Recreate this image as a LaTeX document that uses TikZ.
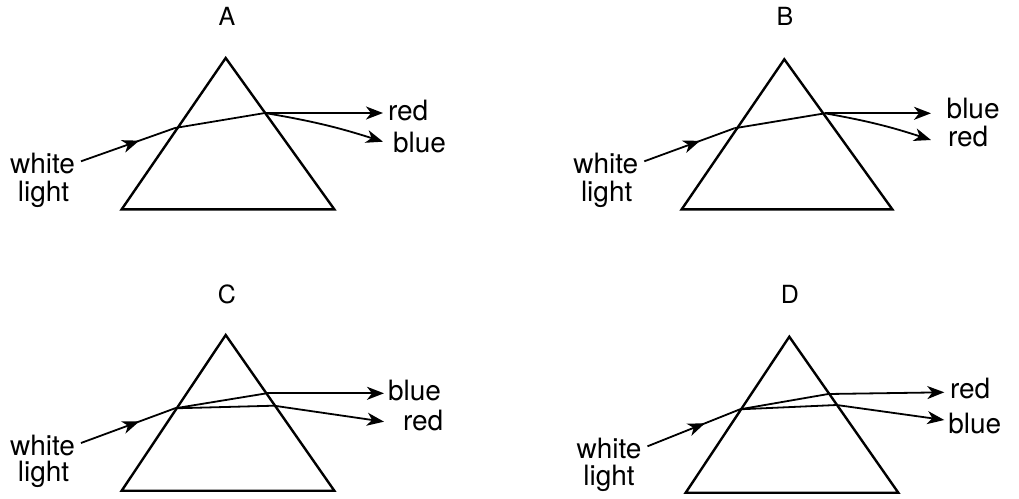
\documentclass[tikz,border=0pt]{standalone}
\usepackage{fontspec}
\setmainfont{TeX Gyre Heros}
\usetikzlibrary{arrows.meta,decorations.markings}
\tikzset{
  prism/.style={draw=black,line width=2.4pt,line join=miter},
  ray/.style={draw=black,line width=1.8pt},
  tipray/.style={ray,-{Stealth[length=17pt,width=13pt,inset=5pt]}},
  midray/.style={ray,postaction={decorate},decoration={markings,
     mark=at position 0.62 with {\arrow{Stealth[length=17pt,width=13pt,inset=5pt]}}}},
  lbl/.style={inner sep=0pt,outer sep=0pt,font=\fontsize{28}{30}\selectfont},
  ttl/.style={inner sep=0pt,outer sep=0pt,font=\fontsize{25}{27}\selectfont},
}
\begin{document}
\begin{tikzpicture}[x=1pt,y=-1pt]
\useasboundingbox (0,0) rectangle (1019,498);
% ---------- A ----------
\node[ttl,anchor=base] (tA) at (227,25) {A};
\coordinate (apA) at (225.7,58);
\coordinate (blA) at (121.7,209.3);
\coordinate (brA) at (334.3,209.3);
\draw[prism] (apA) -- (brA) -- (blA) -- cycle;
\node[lbl,anchor=base] (wA) at (42.5,173.3) {white};
\node[lbl,anchor=base] (lA) at (43.5,201.7) {light};
\node[lbl,anchor=base west] (rA) at (388,120) {red};
\node[lbl,anchor=base west] (bA) at (393,152.7) {blue};
\coordinate (inA) at (175,128);
\coordinate (exA) at (265,113);
\coordinate (trA) at (383,113);
\coordinate (tbA) at (383,141.7);
\draw[midray] ([xshift=6pt,yshift=2pt]wA.east) -- (inA);
\draw[ray] (inA) -- (exA);
\draw[tipray] (exA) -- (trA);
\draw[tipray] (exA) to[bend left=4] (tbA);
% ---------- B ----------
\node[ttl,anchor=base] (tB) at (785,25) {B};
\coordinate (apB) at (784.3,59.3);
\coordinate (blB) at (681.7,209.3);
\coordinate (brB) at (892.3,209.3);
\draw[prism] (apB) -- (brB) -- (blB) -- cycle;
\node[lbl,anchor=base] (wB) at (605.8,173.3) {white};
\node[lbl,anchor=base] (lB) at (606.7,201.7) {light};
\node[lbl,anchor=base west] (bB) at (946.7,118.3) {blue};
\node[lbl,anchor=base west] (rB) at (948,146.7) {red};
\coordinate (inB) at (734.3,128.3);
\coordinate (exB) at (825,113.3);
\coordinate (tbB) at (931,113.3);
\coordinate (trB) at (931,140);
\draw[midray] ([xshift=6pt,yshift=2pt]wB.east) -- (inB);
\draw[ray] (inB) -- (exB);
\draw[tipray] (exB) -- (tbB);
\draw[tipray] (exB) to[bend left=4] (trB);
% ---------- C ----------
\node[ttl,anchor=base] (tC) at (227,303.3) {C};
\coordinate (apC) at (225.7,335);
\coordinate (blC) at (121.7,490.7);
\coordinate (brC) at (334.3,490.7);
\draw[prism] (apC) -- (brC) -- (blC) -- cycle;
\node[lbl,anchor=base] (wC) at (42.5,455) {white};
\node[lbl,anchor=base] (lC) at (43.5,481.7) {light};
\node[lbl,anchor=base west] (bC) at (388,400) {blue};
\node[lbl,anchor=base west] (rC) at (403,430) {red};
\coordinate (inC) at (175,408.3);
\coordinate (ebC) at (266.7,393.3);
\coordinate (erC) at (274,405.7);
\coordinate (tbC) at (384,393.3);
\coordinate (trC) at (384,421.7);
\draw[midray] ([xshift=6pt,yshift=2pt]wC.east) -- (inC);
\draw[ray] (inC) -- (ebC);
\draw[ray] (inC) -- (erC);
\draw[tipray] (ebC) -- (tbC);
\draw[tipray] (erC) -- (trC);
% ---------- D ----------
\node[ttl,anchor=base] (tD) at (790,303.3) {D};
\coordinate (apD) at (789.3,336.7);
\coordinate (blD) at (685.7,492.7);
\coordinate (brD) at (898.3,492.7);
\draw[prism] (apD) -- (brD) -- (blD) -- cycle;
\node[lbl,anchor=base] (wD) at (609,458.3) {white};
\node[lbl,anchor=base] (lD) at (609,485) {light};
\node[lbl,anchor=base west] (rD) at (950,398.3) {red};
\node[lbl,anchor=base west] (bD) at (948.3,433.3) {blue};
\coordinate (inD) at (740,409.3);
\coordinate (erD) at (828.3,394);
\coordinate (ebD) at (836.7,405);
\coordinate (trD) at (944.3,392.3);
\coordinate (tbD) at (944.3,420);
\draw[midray] ([xshift=6pt,yshift=2pt]wD.east) -- (inD);
\draw[ray] (inD) -- (erD);
\draw[ray] (inD) -- (ebD);
\draw[tipray] (erD) -- (trD);
\draw[tipray] (ebD) -- (tbD);
\end{tikzpicture}
\end{document}
